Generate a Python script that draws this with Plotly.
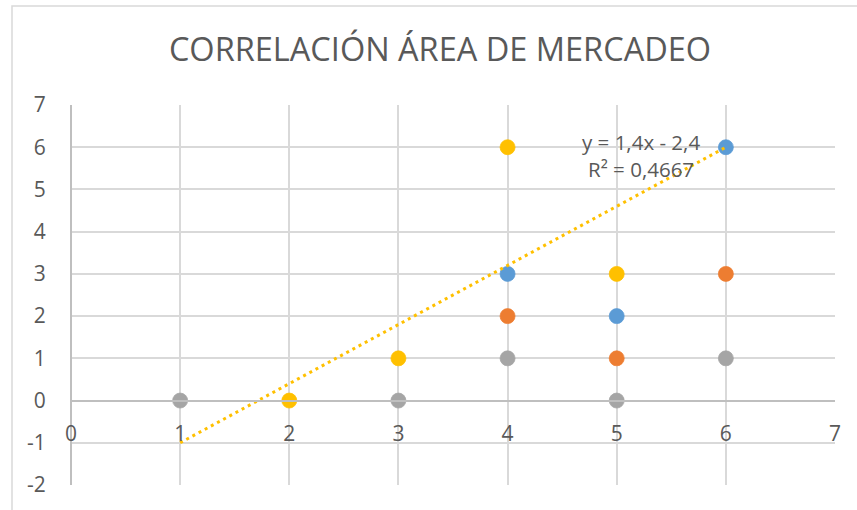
import numpy as np
import plotly.graph_objects as go

# Series data (x = evaluation level, y = count)
blue_x = [4, 5, 6]
blue_y = [3, 2, 6]
orange_x = [4, 5, 6]
orange_y = [2, 1, 3]
gray_x = [1, 3, 4, 5, 6]
gray_y = [0, 0, 1, 0, 1]
yellow_x = [2, 3, 4, 5]
yellow_y = [0, 1, 6, 3]

x_ticks = [0, 1, 2, 3, 4, 5, 6, 7]
y_ticks = [-2, -1, 0, 1, 2, 3, 4, 5, 6, 7]

TITLE = "CORRELACIÓN ÁREA DE MERCADEO"
TREND_FORECAST = 1  # trendline extended one unit backward and forward

BLUE = "#5B9BD5"
ORANGE = "#ED7D31"
GRAY = "#A5A5A5"
YELLOW = "#FFC000"
TEXT = "#595959"
GRID = "#D9D9D9"
FONT = "Open Sans"

W, H = 857, 510
L, R, T, B = 71, 22, 105, 25

# Linear fit of the yellow series
slope, intercept = np.polyfit(yellow_x, yellow_y, 1)
pred = slope * np.array(yellow_x) + intercept
ss_res = np.sum((np.array(yellow_y) - pred) ** 2)
ss_tot = np.sum((np.array(yellow_y) - np.mean(yellow_y)) ** 2)
r2 = 1 - ss_res / ss_tot
tx = np.array([min(yellow_x) - TREND_FORECAST, max(yellow_x) + TREND_FORECAST])
ty = slope * tx + intercept


def fmt(v, d):
    s = f"{abs(v):.{d}f}".rstrip("0").rstrip(".")
    return s.replace(".", ",")


def tick_text(v):
    # plain hyphen for negatives, as in spreadsheet charts
    return f"-{abs(v)}" if v < 0 else f"{v}"


eq = f"y = {fmt(slope, 4)}x {'-' if intercept < 0 else '+'} {fmt(intercept, 4)}"
r2_text = f"R² = {r2:.4f}".replace(".", ",")

fig = go.Figure()


def add_points(xs, ys, color, name):
    fig.add_trace(go.Scatter(
        x=xs, y=ys, mode="markers", name=name,
        marker=dict(size=15, color=color, line=dict(width=0.75, color=color)),
        showlegend=False, cliponaxis=False,
    ))


add_points(blue_x, blue_y, BLUE, "Serie 1")
add_points(orange_x, orange_y, ORANGE, "Serie 2")
add_points(gray_x, gray_y, GRAY, "Serie 3")
add_points(yellow_x, yellow_y, YELLOW, "Serie 4")

fig.add_trace(go.Scatter(
    x=tx, y=ty, mode="lines", showlegend=False,
    line=dict(color=YELLOW, width=3, dash="3px,4px"),
    cliponaxis=False,
))

y_min, y_max = y_ticks[0], y_ticks[-1]
zero_pos = (0 - y_min) / (y_max - y_min)

fig.update_layout(
    width=W, height=H,
    margin=dict(l=L, r=R, t=T, b=B, autoexpand=False),
    paper_bgcolor="white", plot_bgcolor="white",
    font=dict(family=FONT, color=TEXT),
    title=dict(
        text=TITLE, font=dict(size=32.5, color=TEXT, family=FONT),
        xref="container", x=440 / W, xanchor="center",
        yref="container", y=1 - 50 / H, yanchor="middle",
    ),
    xaxis=dict(
        range=[x_ticks[0], x_ticks[-1]], tickvals=x_ticks,
        ticktext=[tick_text(v) for v in x_ticks],
        showgrid=True, gridcolor=GRID, gridwidth=1.5,
        zeroline=True, zerolinecolor="#BFBFBF", zerolinewidth=1.5,
        showline=True, linecolor="#BFBFBF", linewidth=1.5,
        anchor="free", position=zero_pos,
        ticks="outside", ticklen=14, tickcolor="rgba(0,0,0,0)",
        tickfont=dict(size=21, color=TEXT, family=FONT),
    ),
    yaxis=dict(
        range=[y_min, y_max], tickvals=y_ticks,
        ticktext=[tick_text(v) for v in y_ticks],
        showgrid=True, gridcolor=GRID, gridwidth=1.5,
        zeroline=False, showline=False,
        ticks="outside", ticklen=20, tickcolor="rgba(0,0,0,0)",
        tickfont=dict(size=21, color=TEXT, family=FONT),
    ),
    shapes=[
        # chart area border
        dict(type="rect", xref="paper", yref="paper", layer="below",
             x0=(12 - L) / (W - L - R), x1=(W + 20 - L) / (W - L - R),
             y0=-(H + 20 - (H - B)) / (H - T - B), y1=1 + (T - 6) / (H - T - B),
             line=dict(color=GRID, width=1.5), fillcolor="rgba(0,0,0,0)"),
    ],
    annotations=[
        dict(x=tx[1] - 0.78, y=ty[1], xref="x", yref="y",
             text=f"{eq}<br>{r2_text}", showarrow=False, align="center",
             xanchor="center", yanchor="top", yshift=21,
             font=dict(size=20.5, color=TEXT, family=FONT)),
    ],
)

fig.write_html("out.html")
